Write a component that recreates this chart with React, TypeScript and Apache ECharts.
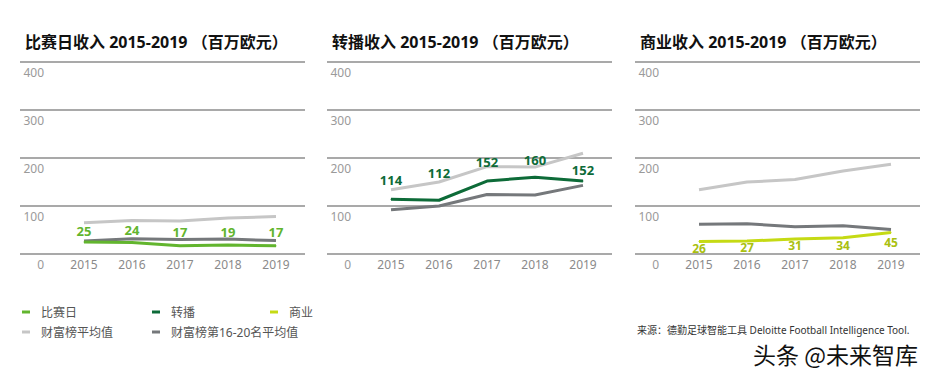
import React, { useEffect, useRef } from "react";
import * as echarts from "echarts";

const years = [2015, 2016, 2017, 2018, 2019];
const yTicks = [0, 100, 200, 300, 400];

const titles = [
  "比赛日收入 2015-2019 （百万欧元）",
  "转播收入 2015-2019 （百万欧元）",
  "商业收入 2015-2019 （百万欧元）",
];
const mainNames = ["比赛日", "转播", "商业"];
const avgName = "财富榜平均值";
const lowName = "财富榜第16-20名平均值";

const matchday = [25, 24, 17, 19, 17];
const matchdayAvg = [65, 70, 69, 75, 78];
const matchdayLow = [27, 32, 30, 31, 28];

const broadcast = [114, 112, 152, 160, 152];
const broadcastAvg = [134, 150, 182, 181, 210];
const broadcastLow = [92, 100, 124, 123, 143];

const commercial = [26, 27, 31, 34, 45];
const commercialAvg = [134, 150, 155, 173, 187];
const commercialLow = [62, 63, 57, 59, 51];

const sourceText = "来源：德勤足球智能工具 Deloitte Football Intelligence Tool.";
const watermark = "头条 @未来智库";

// label gap (px) from the line, per panel and per year
const labelGaps = [
  [4, 5, 7, 6, 7],
  [12, 20, 12, 10, 4],
  [0, 0, 0, 1, 4],
];

const mainColors = ["#62b52e", "#0d6b38", "#c5da14"];
const labelColors = ["#62b52e", "#0d6b38", "#a9c010"];
const avgColor = "#c6c6c6";
const lowColor = "#75787b";

const panelLefts = [20, 327, 635];
const panelWidth = 285;
const FONT = "'Noto Sans', 'Noto Sans CJK SC', sans-serif";

export default function App() {
  const ref = useRef<HTMLDivElement>(null);
  useEffect(() => {
    if (!ref.current) return;
    const chart = echarts.init(ref.current, null, { renderer: "svg" });
    const mains = [matchday, broadcast, commercial];
    const avgs = [matchdayAvg, broadcastAvg, commercialAvg];
    const lows = [matchdayLow, broadcastLow, commercialLow];
    const toPairs = (arr: number[]) => arr.map((v, i) => [years[i], v]);

    const grids: any[] = [];
    const xAxes: any[] = [];
    const yAxes: any[] = [];
    const series: any[] = [];
    const titleArr: any[] = [];

    panelLefts.forEach((L, p) => {
      grids.push({ left: L, width: panelWidth, top: 62, height: 192 });
      titleArr.push({
        text: titles[p],
        left: L,
        top: 29,
        textStyle: { fontSize: 16, fontWeight: "bold", color: "#111", fontFamily: FONT },
      });
      xAxes.push({
        type: "value",
        gridIndex: p,
        min: 2015 - 64 / 48,
        max: 2015 + (285 - 64) / 48,
        axisLine: { show: false },
        axisTick: { show: false },
        splitLine: { show: false },
        axisLabel: {
          customValues: years,
          formatter: (v: number) => String(Math.round(v)),
          color: "#8a8a8a",
          fontSize: 12,
          margin: 4,
          fontFamily: FONT,
        },
      });
      yAxes.push({
        type: "value",
        gridIndex: p,
        min: 0,
        max: 400,
        interval: 100,
        axisLine: { show: false },
        axisTick: { show: false },
        splitLine: { show: true, lineStyle: { color: "#8c8c8c", width: 1.5 } },
        axisLabel: {
          inside: true,
          align: "right",
          verticalAlign: "top",
          margin: 24,
          padding: [4, 0, 0, 0],
          color: "#9a9a9a",
          fontSize: 12,
          fontFamily: FONT,
          formatter: (v: number) => (yTicks.includes(v) ? String(v) : ""),
        },
      });
      series.push({
        type: "line",
        name: avgName,
        xAxisIndex: p,
        yAxisIndex: p,
        data: toPairs(avgs[p]),
        showSymbol: false,
        lineStyle: { color: avgColor, width: 3 },
        itemStyle: { color: avgColor },
        z: 2,
      });
      series.push({
        type: "line",
        name: lowName,
        xAxisIndex: p,
        yAxisIndex: p,
        data: toPairs(lows[p]),
        showSymbol: false,
        lineStyle: { color: lowColor, width: 3 },
        itemStyle: { color: lowColor },
        z: 3,
      });
      series.push({
        type: "line",
        name: mainNames[p],
        xAxisIndex: p,
        yAxisIndex: p,
        data: mains[p].map((v, i) => ({
          value: [years[i], v],
          label: { distance: labelGaps[p][i] },
        })),
        showSymbol: true,
        symbol: "circle",
        symbolSize: 1,
        lineStyle: { color: mainColors[p], width: 3 },
        itemStyle: { color: mainColors[p] },
        label: {
          show: true,
          position: p === 2 ? "bottom" : "top",
          color: labelColors[p],
          fontSize: p === 2 ? 12 : 13,
          fontWeight: "bold",
          fontFamily: FONT,
          formatter: (d: any) => String(d.value[1]),
        },
        z: 4,
      });
    });

    const legendItem = (name: string, left: number, top: number, color: string) => ({
      data: [{ name, itemStyle: { color } }],
      left,
      top,
      icon: "rect",
      itemWidth: 8,
      itemHeight: 3,
      itemGap: 0,
      textStyle: { color: "#555", fontSize: 12, fontFamily: FONT, padding: [0, 0, 0, 6] },
      selectedMode: false,
    });

    chart.setOption({
      animation: false,
      title: titleArr,
      grid: grids,
      xAxis: xAxes,
      yAxis: yAxes,
      series,
      legend: [
        legendItem(mainNames[0], 17, 301, mainColors[0]),
        legendItem(mainNames[1], 147, 301, mainColors[1]),
        legendItem(mainNames[2], 265, 301, mainColors[2]),
        legendItem(avgName, 17, 321, avgColor),
        legendItem(lowName, 147, 321, lowColor),
      ],
      graphic: [
        {
          type: "text",
          left: 637,
          top: 325,
          style: { text: sourceText, fontSize: 10, fill: "#333", fontFamily: FONT },
        },
        {
          type: "text",
          left: 752,
          top: 341,
          style: {
            text: watermark,
            fontSize: 23,
            fill: "#111",
            stroke: "#fff",
            lineWidth: 2,
            fontFamily: "'Noto Sans CJK SC', sans-serif",
          },
        },
      ],
    });
    return () => chart.dispose();
  }, []);
  return (
    <div style={{ position: "absolute", left: 0, top: 0 }}>
      <div ref={ref} style={{ width: 936, height: 371 }} />
    </div>
  );
}
